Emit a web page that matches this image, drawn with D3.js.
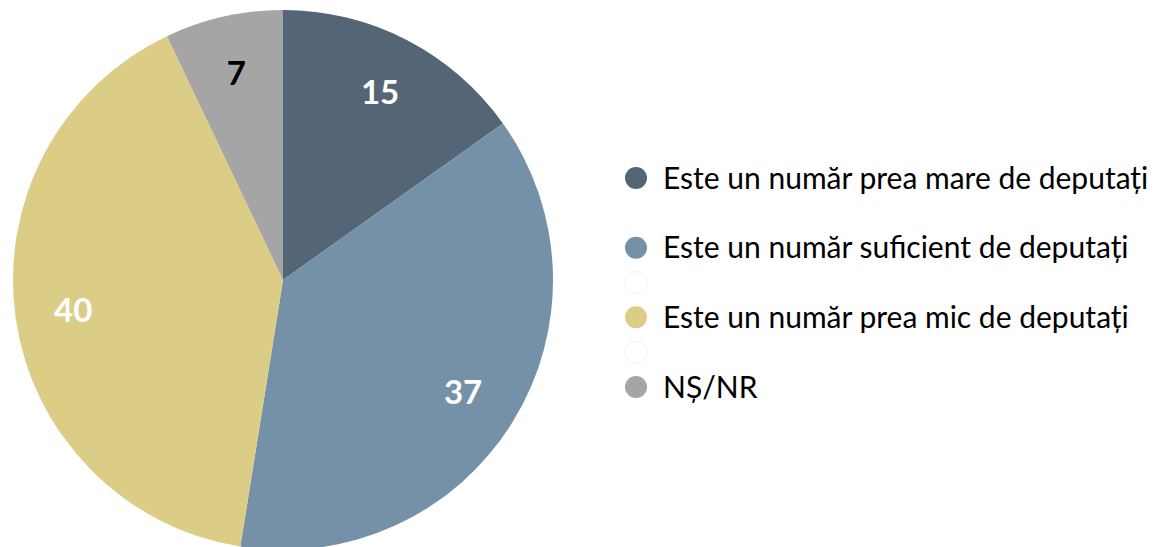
<!DOCTYPE html>
<html>
<head>
<meta charset="utf-8">
<script src="https://cdn.jsdelivr.net/npm/d3@7"></script>
<style>
  html, body { margin: 0; padding: 0; background: #fff; }
  svg { display: block; }
</style>
</head>
<body>
<div id="chart"></div>
<script>
const categories = [
  'Este un număr prea mare de deputați',
  'Este un număr suficient de deputați',
  'Este un număr prea mic de deputați',
  'NȘ/NR'
]
const values = [15, 37, 40, 7]
const colors = ['#546576', '#7591a8', '#dbcd85', '#a5a5a5']
const labelColors = ['#ffffff', '#ffffff', '#ffffff', '#000000']

// legend slots: the original leaves blank entries between some rows
const legendItems = [
  { slot: 0, name: categories[0], color: colors[0] },
  { slot: 2, name: categories[1], color: colors[1] },
  { slot: 3, name: '', color: null },
  { slot: 4, name: categories[2], color: colors[2] },
  { slot: 5, name: '', color: null },
  { slot: 6, name: categories[3], color: colors[3] }
]

const width = 1154
const height = 547
const cx = 283
const cy = 280
const radius = 270

const svg = d3.select('#chart')
  .append('svg')
  .attr('width', width)
  .attr('height', height)

const pie = d3.pie().sort(null).value(d => d)
const arcs = pie(values)

const arc = d3.arc().innerRadius(0).outerRadius(radius)
const labelArc = d3.arc().innerRadius(radius * 0.785).outerRadius(radius * 0.785)

const g = svg.append('g')
  .attr('transform', `translate(${cx},${cy})`)

g.selectAll('path')
  .data(arcs)
  .enter()
  .append('path')
  .attr('d', arc)
  .attr('fill', (d, i) => colors[i])

g.selectAll('text')
  .data(arcs)
  .enter()
  .append('text')
  .attr('transform', d => `translate(${labelArc.centroid(d)})`)
  .attr('text-anchor', 'middle')
  .attr('dy', '0.36em')
  .attr('font-family', 'Lato, sans-serif')
  .attr('font-weight', 700)
  .attr('font-size', 33)
  .attr('fill', (d, i) => labelColors[i])
  .text(d => d.data)

// Legend
const legendY = d3.scaleLinear().domain([0, 6]).range([178, 387])

const legend = svg.append('g')
  .selectAll('g')
  .data(legendItems)
  .enter()
  .append('g')
  .attr('transform', d => `translate(636,${legendY(d.slot)})`)

legend.append('circle')
  .attr('r', 11)
  .attr('fill', d => d.color || '#ffffff')
  .attr('stroke', d => d.color ? 'none' : '#f3f3f3')
  .attr('stroke-width', 1)

legend.append('text')
  .attr('x', 27)
  .attr('dy', '0.36em')
  .attr('font-family', 'Lato, sans-serif')
  .attr('font-size', 30)
  .attr('fill', '#000')
  .text(d => d.name)
</script>
</body>
</html>
